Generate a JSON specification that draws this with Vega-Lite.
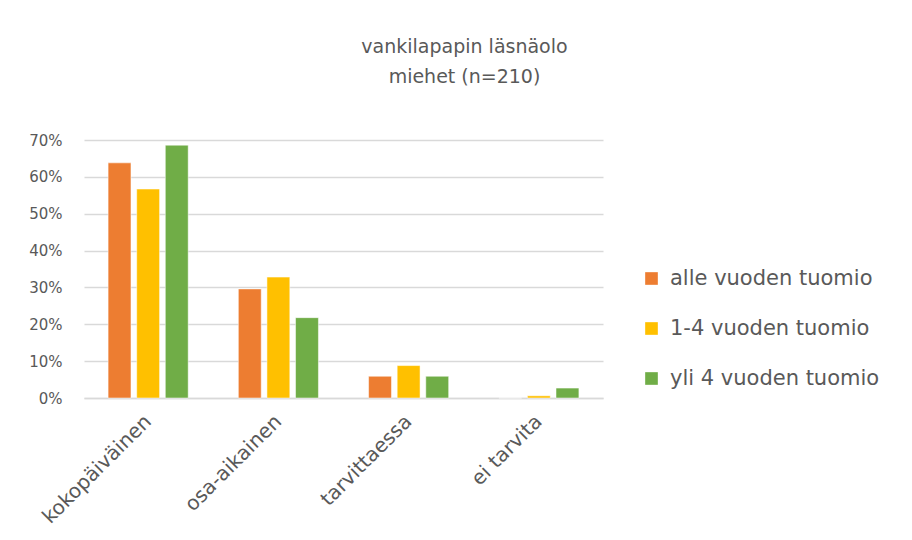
{
  "$schema": "https://vega.github.io/schema/vega-lite/v6.json",
  "autosize": {"type": "none"},
  "width": 519,
  "height": 258,
  "padding": {"left": 84, "top": 140, "right": 309, "bottom": 142},
  "background": "white",
  "title": {
    "text": ["vankilapapin läsnäolo", "miehet (n=210)"],
    "font": "DejaVu Sans",
    "fontSize": 19,
    "fontWeight": "normal",
    "color": "#595959",
    "lineHeight": 30,
    "anchor": "middle",
    "dx": 121,
    "offset": 46
  },
  "data": {
    "values": [
      {"kategoria": "kokopäiväinen", "ryhma": "alle vuoden tuomio", "osuus": 0.638},
      {"kategoria": "kokopäiväinen", "ryhma": "1-4 vuoden tuomio", "osuus": 0.567},
      {"kategoria": "kokopäiväinen", "ryhma": " yli 4 vuoden tuomio", "osuus": 0.686},
      {"kategoria": "osa-aikainen", "ryhma": "alle vuoden tuomio", "osuus": 0.296},
      {"kategoria": "osa-aikainen", "ryhma": "1-4 vuoden tuomio", "osuus": 0.328},
      {"kategoria": "osa-aikainen", "ryhma": " yli 4 vuoden tuomio", "osuus": 0.218},
      {"kategoria": "tarvittaessa", "ryhma": "alle vuoden tuomio", "osuus": 0.059},
      {"kategoria": "tarvittaessa", "ryhma": "1-4 vuoden tuomio", "osuus": 0.088},
      {"kategoria": "tarvittaessa", "ryhma": " yli 4 vuoden tuomio", "osuus": 0.059},
      {"kategoria": "ei tarvita", "ryhma": "alle vuoden tuomio", "osuus": 0.0},
      {"kategoria": "ei tarvita", "ryhma": "1-4 vuoden tuomio", "osuus": 0.006},
      {"kategoria": "ei tarvita", "ryhma": " yli 4 vuoden tuomio", "osuus": 0.027}
    ]
  },
  "mark": {"type": "bar", "stroke": "white", "strokeWidth": 0.5},
  "encoding": {
    "x": {
      "field": "kategoria",
      "type": "nominal",
      "sort": ["kokopäiväinen", "osa-aikainen", "tarvittaessa", "ei tarvita"],
      "scale": {"paddingInner": 0.385, "paddingOuter": 0.185},
      "axis": {
        "title": null,
        "labelAngle": -45,
        "labelAlign": "right",
        "labelBaseline": "middle",
        "labelFont": "DejaVu Sans",
        "labelFontSize": 20,
        "labelColor": "#595959",
        "labelPadding": 20,
        "labelDx": 14,
        "labelLimit": 300,
        "ticks": false,
        "domainColor": "#d9d9d9",
        "domainWidth": 1.5,
        "grid": false
      }
    },
    "xOffset": {
      "field": "ryhma",
      "type": "nominal",
      "sort": ["alle vuoden tuomio", "1-4 vuoden tuomio", " yli 4 vuoden tuomio"],
      "scale": {"paddingInner": 0.2}
    },
    "y": {
      "field": "osuus",
      "type": "quantitative",
      "scale": {"domain": [0, 0.7]},
      "axis": {
        "title": null,
        "format": ".0%",
        "values": [0, 0.1, 0.2, 0.3, 0.4, 0.5, 0.6, 0.7],
        "labelFont": "DejaVu Sans",
        "labelFontSize": 15,
        "labelColor": "#595959",
        "labelPadding": 22,
        "ticks": false,
        "domain": false,
        "gridColor": "#d9d9d9",
        "gridWidth": 1.5
      }
    },
    "color": {
      "field": "ryhma",
      "type": "nominal",
      "sort": ["alle vuoden tuomio", "1-4 vuoden tuomio", " yli 4 vuoden tuomio"],
      "scale": {
        "domain": ["alle vuoden tuomio", "1-4 vuoden tuomio", " yli 4 vuoden tuomio"],
        "range": ["#ed7d31", "#ffc000", "#70ad47"]
      },
      "legend": {
        "title": null,
        "orient": "none",
        "legendX": 557,
        "legendY": 128,
        "symbolType": "square",
        "symbolSize": 160,
        "symbolStrokeWidth": 0,
        "labelFont": "DejaVu Sans",
        "labelFontSize": 21,
        "labelColor": "#595959",
        "labelOffset": 8,
        "rowPadding": 28,
        "labelLimit": 300
      }
    }
  },
  "config": {"view": {"stroke": null}}
}
